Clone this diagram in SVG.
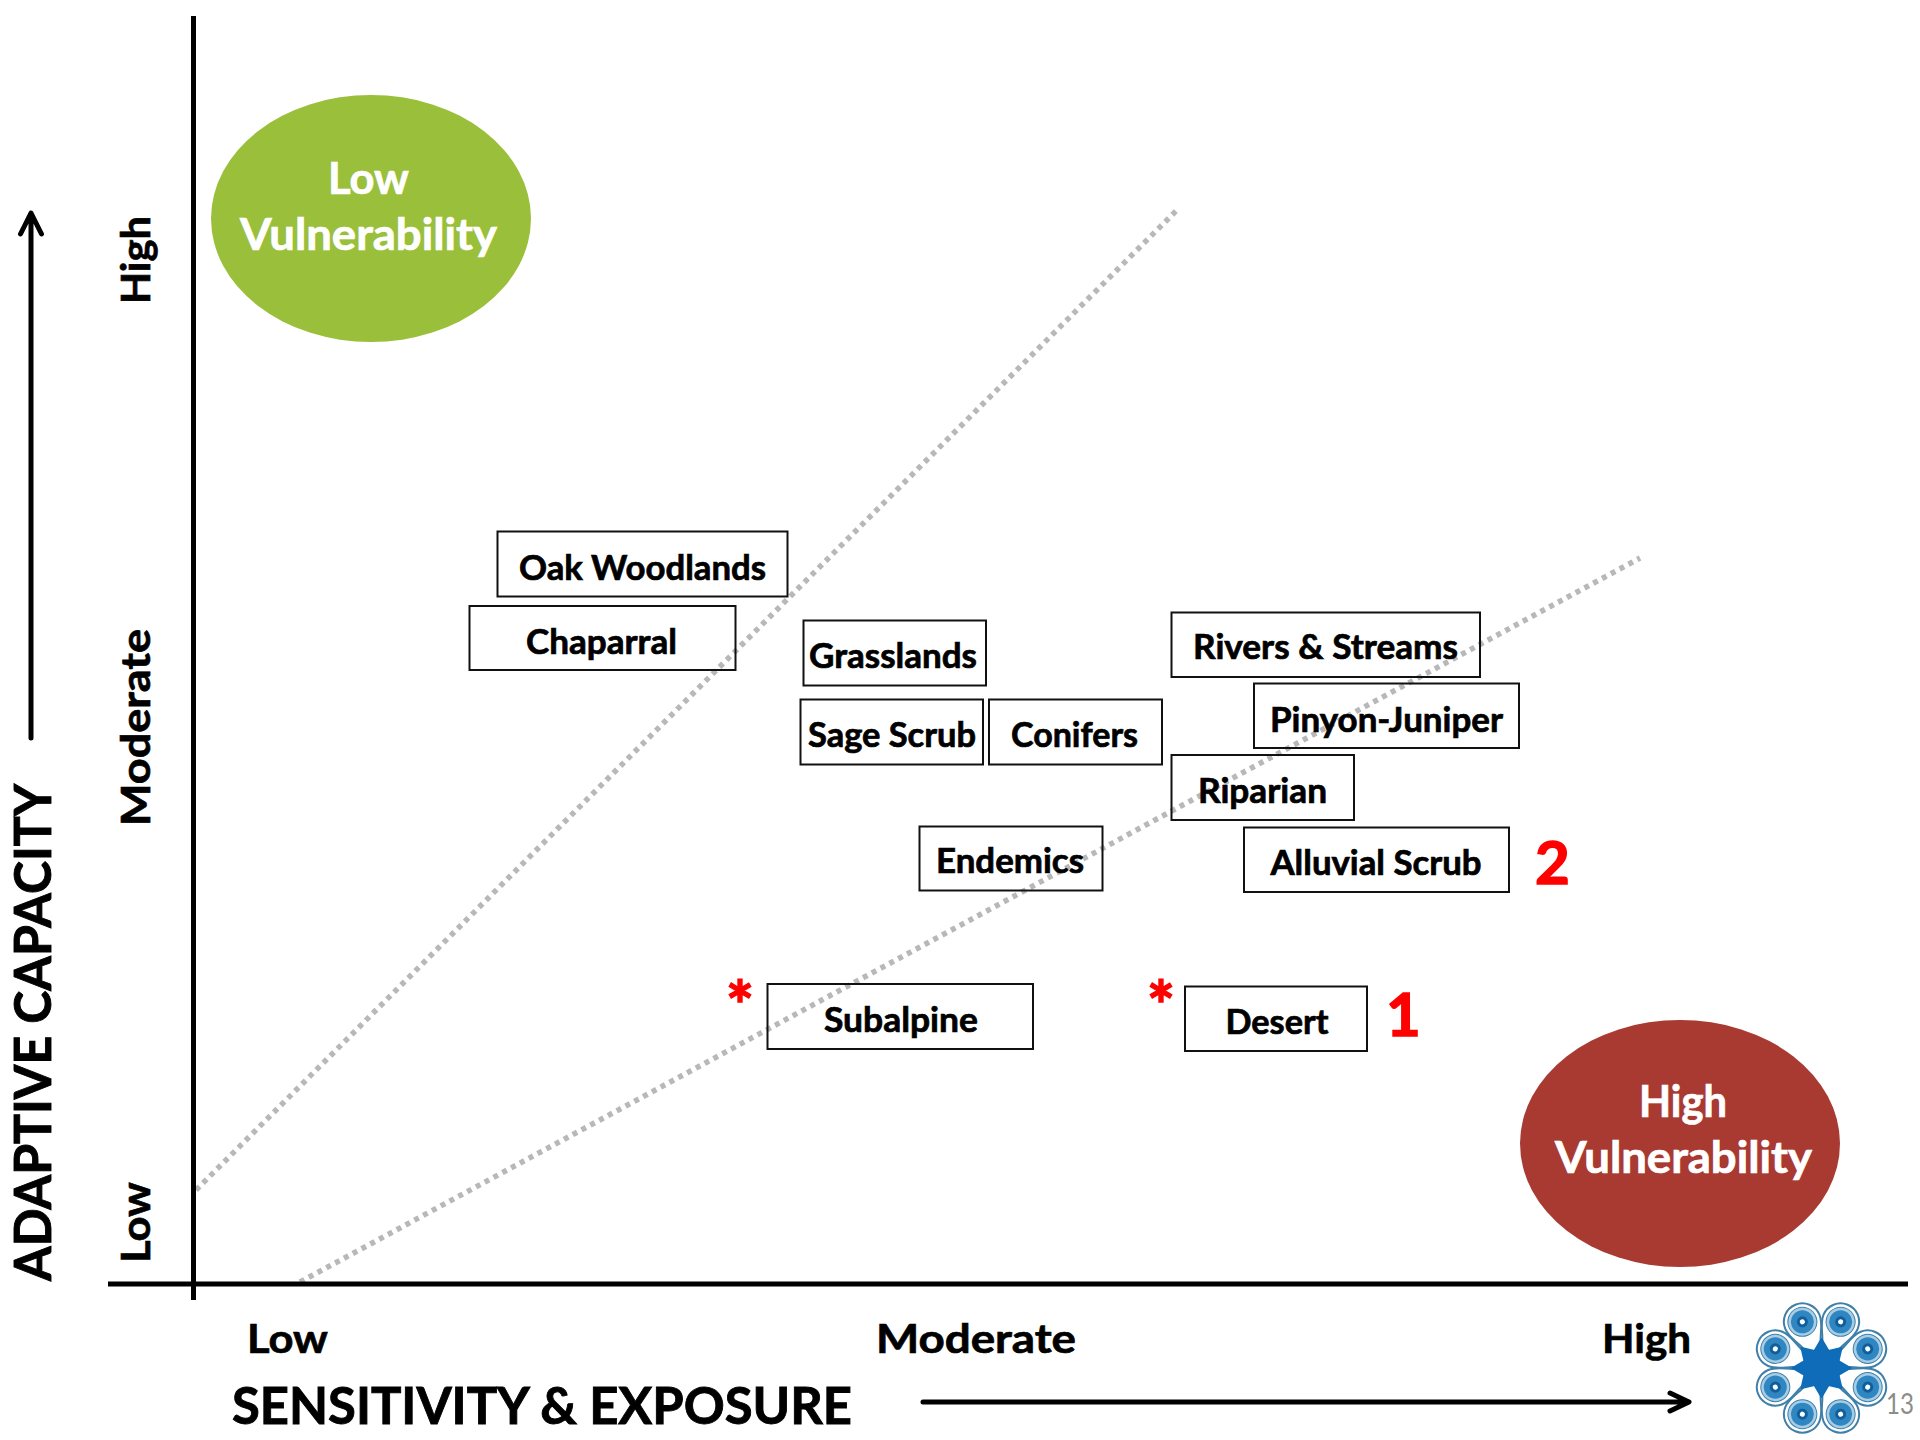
<svg xmlns="http://www.w3.org/2000/svg" xmlns:xlink="http://www.w3.org/1999/xlink" width="1920" height="1440" viewBox="0 0 1920 1440">
<style>
text{font-family:"Lato","Carlito","Open Sans",sans-serif;font-weight:700;fill:#000;stroke:#000;stroke-width:.7px}
.lb{font-size:34.500px}
.ax{font-size:41px}
.ti{font-size:52px;stroke-width:.9px}
.wh{font-size:43px;fill:#fff;stroke:#fff}
.rd{fill:#f00;stroke:#f00;font-size:60px;stroke-width:1.500px}
.as{fill:#f00;stroke:#f00;font-size:66px;stroke-width:1.500px}
.box{fill:none;stroke:#111;stroke-width:2}
.axis{stroke:#000;stroke-width:5;fill:none}
.dot{stroke:#b8b8b8;stroke-width:5.500;stroke-dasharray:5 5;fill:none}
.arrow{stroke:#000;stroke-width:5;fill:none;stroke-linecap:round;stroke-linejoin:round}
</style>
<defs>
<g id="lobe">
<path d="M-7.700,-18.500C-9,-30-18.500,-38-18.500,-50A18.500,18.500 0 1 1 18.500,-50C18.500,-38 9,-30 7.700,-18.500Z" fill="#fff" stroke="#3f80ab" stroke-width="2"/>
<circle cy="-50" r="14.500" fill="#a6cde3" stroke="#3f80ab" stroke-width="1"/>
<circle cy="-50" r="11.500" fill="#2f86c1"/>
<circle cy="-50" r="5.500" fill="#0f5f9e"/>
<circle cy="-50" r="2.500" fill="#fff"/>
</g>
</defs>
<rect width="1920" height="1440" fill="#fff"/>
<g id="connectors">
<path class="dot" d="M196,1190L1177,210"/>
<path class="dot" d="M300,1282L1640,558"/>
<path class="axis" d="M193.500,16V1300"/>
<path class="axis" d="M108,1284H1908"/>
<path class="arrow" d="M31,738V214M20.500,234L31,213L41.500,234"/>
<path class="arrow" d="M923,1402H1688M1670,1393L1689,1402L1670,1411"/>
</g>
<g id="low-vulnerability">
<ellipse cx="371" cy="218.500" rx="160" ry="123.500" fill="#9abf3b"/>
<text class="wh" x="328" y="194" textLength="81" lengthAdjust="spacingAndGlyphs">Low</text>
<text class="wh" x="240" y="250" textLength="257" lengthAdjust="spacingAndGlyphs">Vulnerability</text>
</g>
<g id="high-vulnerability">
<ellipse cx="1680" cy="1143.500" rx="160" ry="123.500" fill="#a83a32"/>
<text class="wh" x="1639" y="1117" textLength="88" lengthAdjust="spacingAndGlyphs">High</text>
<text class="wh" x="1555" y="1173" textLength="257" lengthAdjust="spacingAndGlyphs">Vulnerability</text>
</g>
<g id="oak-woodlands"><rect class="box" x="497.500" y="531.500" width="290" height="65"/><text class="lb" x="519" y="579.500" textLength="247" lengthAdjust="spacingAndGlyphs">Oak Woodlands</text></g>
<g id="chaparral"><rect class="box" x="469.500" y="606" width="266" height="64"/><text class="lb" x="526" y="653.500" textLength="151" lengthAdjust="spacingAndGlyphs">Chaparral</text></g>
<g id="grasslands"><rect class="box" x="803.500" y="620.500" width="182.500" height="65"/><text class="lb" x="809" y="668" textLength="168" lengthAdjust="spacingAndGlyphs">Grasslands</text></g>
<g id="sage-scrub"><rect class="box" x="800.500" y="699.500" width="182.500" height="65"/><text class="lb" x="808" y="746.500" textLength="168" lengthAdjust="spacingAndGlyphs">Sage Scrub</text></g>
<g id="conifers"><rect class="box" x="989" y="699.500" width="173" height="65"/><text class="lb" x="1011" y="746.500" textLength="127" lengthAdjust="spacingAndGlyphs">Conifers</text></g>
<g id="endemics"><rect class="box" x="919.500" y="826.500" width="183" height="64"/><text class="lb" x="936" y="873" textLength="148" lengthAdjust="spacingAndGlyphs">Endemics</text></g>
<g id="rivers-streams"><rect class="box" x="1171.500" y="612.500" width="308.500" height="64.500"/><text class="lb" x="1193" y="659" textLength="265" lengthAdjust="spacingAndGlyphs">Rivers &amp; Streams</text></g>
<g id="pinyon-juniper"><rect class="box" x="1254" y="683.500" width="265" height="64.500"/><text class="lb" x="1270" y="731.500" textLength="233" lengthAdjust="spacingAndGlyphs">Pinyon-Juniper</text></g>
<g id="riparian"><rect class="box" x="1171.500" y="755" width="182.500" height="65"/><text class="lb" x="1198" y="802.500" textLength="129" lengthAdjust="spacingAndGlyphs">Riparian</text></g>
<g id="alluvial-scrub"><rect class="box" x="1244" y="827.500" width="265" height="64.500"/><text class="lb" x="1270.500" y="874.500" textLength="211" lengthAdjust="spacingAndGlyphs">Alluvial Scrub</text></g>
<g id="subalpine"><rect class="box" x="767.500" y="984" width="265.500" height="65"/><text class="lb" x="824" y="1031.500" textLength="154" lengthAdjust="spacingAndGlyphs">Subalpine</text><text class="as" x="726" y="1030" textLength="28" lengthAdjust="spacingAndGlyphs">*</text></g>
<g id="desert"><rect class="box" x="1185" y="986.500" width="182" height="64.500"/><text class="lb" x="1225.500" y="1033.500" textLength="103" lengthAdjust="spacingAndGlyphs">Desert</text><text class="as" x="1147" y="1030" textLength="28" lengthAdjust="spacingAndGlyphs">*</text></g>
<g id="marks">
<text class="rd" x="1386" y="1035.500">1</text>
<text class="rd" x="1535" y="883.500">2</text>
</g>
<g id="axis-labels">
<text class="ax" x="247" y="1352.500" textLength="81" lengthAdjust="spacingAndGlyphs">Low</text>
<text class="ax" x="876" y="1352.500" textLength="200" lengthAdjust="spacingAndGlyphs">Moderate</text>
<text class="ax" x="1602" y="1352.500" textLength="89" lengthAdjust="spacingAndGlyphs">High</text>
<text class="ti" x="232" y="1424" textLength="620" lengthAdjust="spacingAndGlyphs">SENSITIVITY &amp; EXPOSURE</text>
<text class="ti" transform="translate(51,1281) rotate(-90)" textLength="497" lengthAdjust="spacingAndGlyphs">ADAPTIVE CAPACITY</text>
<text class="ax" transform="translate(150,1263) rotate(-90)" textLength="81" lengthAdjust="spacingAndGlyphs">Low</text>
<text class="ax" transform="translate(150,826) rotate(-90)" textLength="197" lengthAdjust="spacingAndGlyphs">Moderate</text>
<text class="ax" transform="translate(150,304) rotate(-90)" textLength="88" lengthAdjust="spacingAndGlyphs">High</text>
</g>
<g id="logo" transform="translate(1821.500,1368)">
<use xlink:href="#lobe" href="#lobe" transform="rotate(22.500)"/>
<use xlink:href="#lobe" href="#lobe" transform="rotate(67.500)"/>
<use xlink:href="#lobe" href="#lobe" transform="rotate(112.500)"/>
<use xlink:href="#lobe" href="#lobe" transform="rotate(157.500)"/>
<use xlink:href="#lobe" href="#lobe" transform="rotate(202.500)"/>
<use xlink:href="#lobe" href="#lobe" transform="rotate(247.500)"/>
<use xlink:href="#lobe" href="#lobe" transform="rotate(292.500)"/>
<use xlink:href="#lobe" href="#lobe" transform="rotate(337.500)"/>
<path d="M0,-29L7,-17L20,-20L17,-7L29,0L17,7L20,20L7,17L0,29L-7,17L-20,20L-17,7L-29,0L-17,-7L-20,-20L-7,-17Z" fill="#0f6cb8" stroke="#0f6cb8" stroke-width="2" stroke-linejoin="round"/>
</g>
<text id="page-number" x="1886" y="1414" style="font-weight:400;font-size:28px;fill:#8c8c8c;stroke:none" textLength="28" lengthAdjust="spacingAndGlyphs">13</text>
</svg>
